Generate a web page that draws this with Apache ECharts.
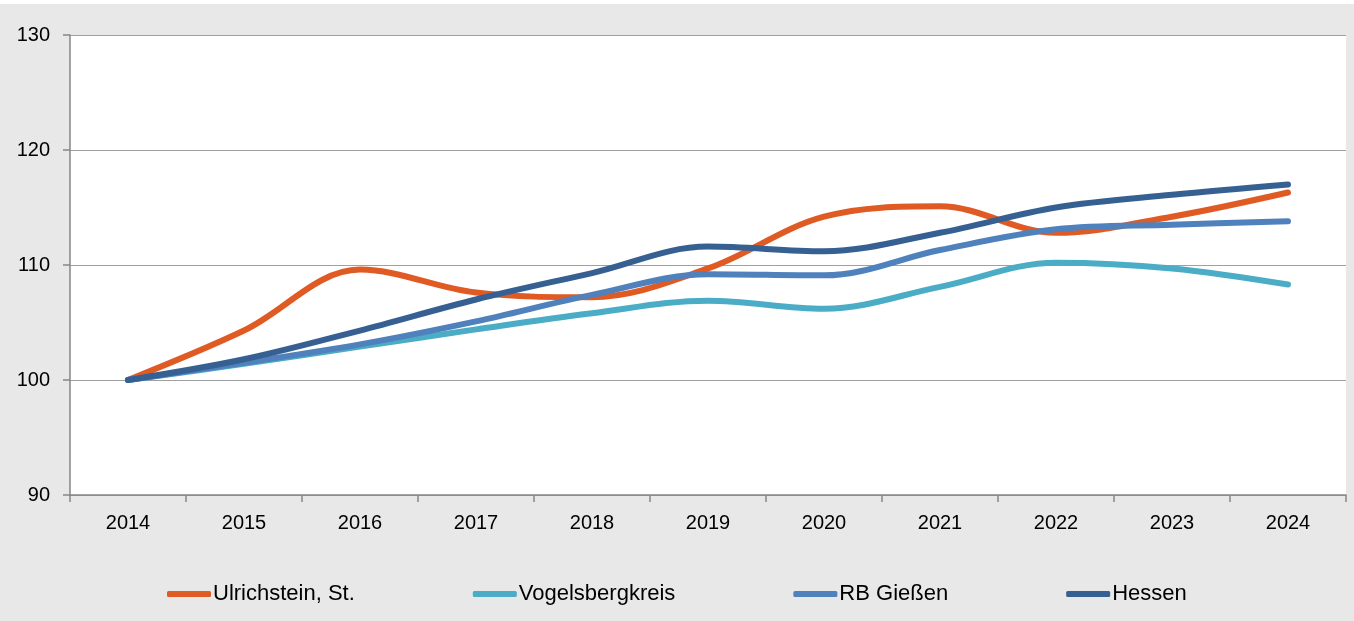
<!DOCTYPE html>
<html>
<head>
<meta charset="utf-8">
<script src="https://cdn.jsdelivr.net/npm/echarts@6/dist/echarts.min.js"></script>
<style>
html,body{margin:0;padding:0;background:#e8e8e8;}
#c{width:1354px;height:621px;}
</style>
</head>
<body>
<div id="c"></div>
<script>
const years = ['2014','2015','2016','2017','2018','2019','2020','2021','2022','2023','2024'];
const ulrichstein = [100, 104.3, 109.6, 107.6, 107.2, 109.7, 114.2, 115.1, 112.8, 114.2, 116.3];
const vogelsberg = [100, 101.4, 102.9, 104.4, 105.8, 106.9, 106.2, 108.1, 110.2, 109.7, 108.3];
const rbGiessen = [100, 101.5, 103.1, 105.1, 107.4, 109.2, 109.1, 111.3, 113.1, 113.5, 113.8];
const hessen = [100, 101.8, 104.3, 107.0, 109.3, 111.6, 111.2, 112.8, 115.0, 116.1, 117.0];
const seriesNames = ['Ulrichstein, St.', 'Vogelsbergkreis', 'RB Gießen', 'Hessen'];
const seriesData = [ulrichstein, vogelsberg, rbGiessen, hessen];
const colors = ['#e05a24', '#4bacc6', '#4f81bd', '#376092'];

const font = '"Liberation Sans", Arial, sans-serif';
const chart = echarts.init(document.getElementById('c'), null, {renderer: 'canvas'});
chart.setOption({
  backgroundColor: '#e8e8e8',
  animation: false,
  graphic: [{type: 'rect', shape: {x: 0, y: 0, width: 1354, height: 4}, style: {fill: '#ffffff'}, z: -1}],
  grid: {left: 70, right: 8, top: 35, bottom: 126, backgroundColor: '#ffffff', show: true, borderWidth: 0},
  legend: {
    data: seriesNames,
    left: 162, top: 578,
    icon: 'roundRect',
    itemWidth: 44, itemHeight: 6, itemGap: 118,
    textStyle: {fontFamily: font, fontSize: 22, color: '#000', padding: [0, 0, 0, -3]}
  },
  xAxis: {
    type: 'category', data: years, boundaryGap: true,
    axisLine: {lineStyle: {color: '#868686', width: 1.5}},
    axisTick: {show: true, length: 7, lineStyle: {color: '#868686', width: 1.5}},
    axisLabel: {fontFamily: font, fontSize: 20, color: '#000', margin: 18},
    splitLine: {show: false}
  },
  yAxis: {
    type: 'value', min: 90, max: 130, interval: 10,
    axisLine: {show: true, lineStyle: {color: '#868686', width: 1.5}},
    axisTick: {show: true, length: 7, lineStyle: {color: '#868686', width: 1.5}},
    axisLabel: {fontFamily: font, fontSize: 20, color: '#000', margin: 20},
    splitLine: {show: true, lineStyle: {color: '#a0a0a0', width: 1}}
  },
  series: seriesNames.map((n, i) => ({
    name: n, type: 'line', data: seriesData[i], smooth: 0.35,
    symbol: 'none', showSymbol: false,
    lineStyle: {color: colors[i], width: 6, cap: 'round', join: 'round'},
    itemStyle: {color: colors[i]},
    z: 2 + i
  }))
});
</script>
</body>
</html>
